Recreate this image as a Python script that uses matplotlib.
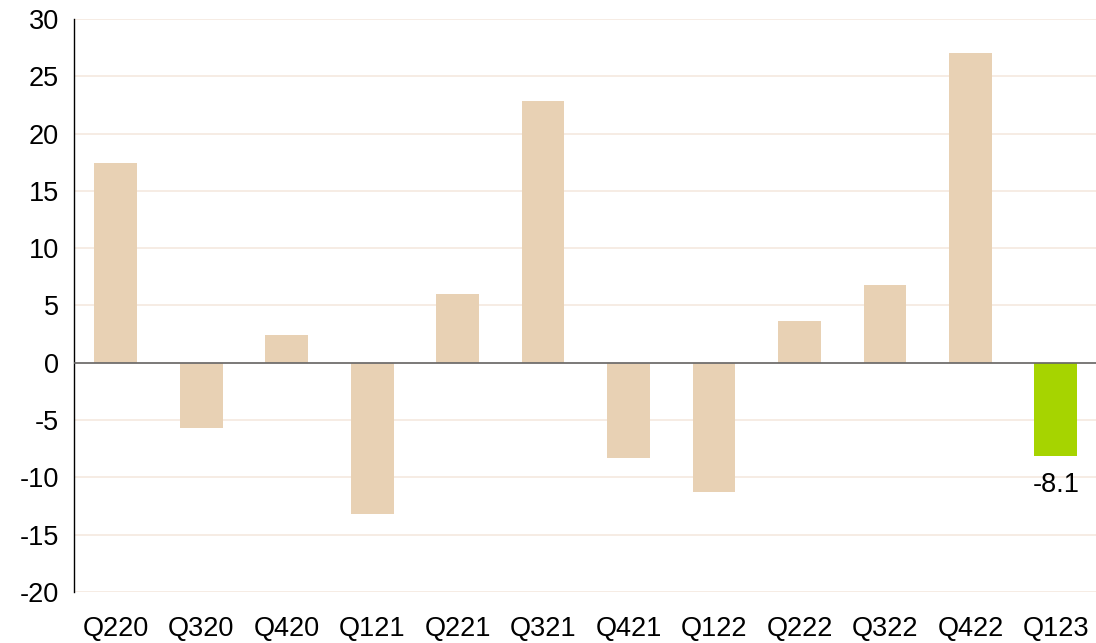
import numpy as np
import matplotlib.pyplot as plt

plt.rcParams['font.family'] = ['Liberation Sans', 'DejaVu Sans']

quarters = ['Q220', 'Q320', 'Q420', 'Q121', 'Q221', 'Q321',
            'Q421', 'Q122', 'Q222', 'Q322', 'Q422', 'Q123']
values = [17.4, -5.7, 2.45, -13.2, 6.0, 22.8,
          -8.3, -11.3, 3.65, 6.8, 27.0, -8.1]
yticks = np.arange(-20, 31, 5)

colors = ['#e8d1b4'] * (len(values) - 1) + ['#a6d400']

fig = plt.figure(figsize=(10.96, 6.43), dpi=100)
ax = fig.add_axes([0.0675, 0.0793, 0.9325, 0.8912])

x = np.arange(len(quarters))
ax.bar(x, values, width=0.5, color=colors, zorder=3)

ax.set_ylim(-20, 30)
ax.set_xlim(-0.49, len(quarters) - 0.53)
ax.set_yticks(yticks)
ax.set_yticklabels([str(v) for v in yticks])
ax.set_xticks(x)
ax.set_xticklabels(quarters)
ax.tick_params(axis='both', length=0, labelsize=19.5, colors='black')
ax.tick_params(axis='y', pad=11)
ax.tick_params(axis='x', pad=17)

ax.grid(axis='y', color='#f5e9df', linewidth=1.2, zorder=0)
ax.axhline(0, color='#666666', linewidth=1.2, zorder=4)

for s in ['top', 'right', 'bottom']:
    ax.spines[s].set_visible(False)
ax.spines['left'].set_color('black')
ax.spines['left'].set_linewidth(1.0)

ax.annotate('%.1f' % values[-1], (x[-1], values[-1]), xytext=(0, -12),
            textcoords='offset points', ha='center', va='top', fontsize=19.5)

fig.savefig('out.png', dpi=100)
